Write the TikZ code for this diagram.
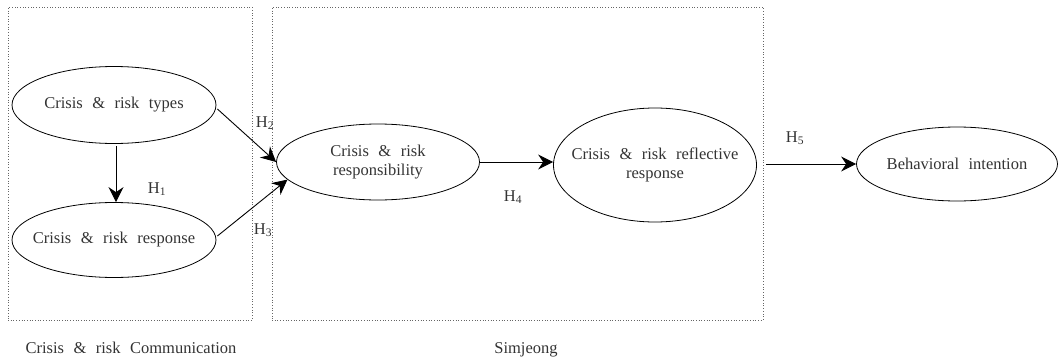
\documentclass[tikz,border=0pt]{standalone}
\usepackage{fontspec}
\setmainfont{Liberation Serif}[WordSpace=2.3]
\usetikzlibrary{arrows.meta,shapes.geometric}
\begin{document}
\begin{tikzpicture}[x=1pt,y=-1pt,
  oval/.style={draw,ellipse,line width=0.8pt,inner sep=0pt},
  inner/.style={align=center,text=black!80,font=\fontsize{16.5}{19}\selectfont,inner sep=0pt},
  grp/.style={draw=black!60,dotted,line width=0.7pt},
  lbl/.style={text=black!80,font=\fontsize{16.5}{19}\selectfont,inner sep=0pt},
  conn/.style={line width=0.9pt,-{Stealth[length=15pt,width=15pt,inset=5pt]}}]
\useasboundingbox (0,0) rectangle (1059,361);
\node[grp,minimum width=244pt,minimum height=313pt,inner sep=0pt] (g1) at (130,163.5) {};
\node[grp,minimum width=491pt,minimum height=313pt,inner sep=0pt] (g2) at (517.5,163.5) {};
\node[oval,minimum width=204pt,minimum height=77pt,label={[inner]center:Crisis \& risk types}] (types) at (114,105) {};
\node[oval,minimum width=204pt,minimum height=75pt,label={[inner]center:Crisis \& risk response}] (resp) at (114,240) {};
\node[oval,minimum width=203pt,minimum height=76pt,label={[inner]center:{Crisis \& risk\\responsibility}}] (respons) at (378,162) {};
\node[oval,minimum width=203pt,minimum height=114pt,label={[inner]center:{Crisis \& risk reflective\\response}}] (refl) at (655,165) {};
\node[oval,minimum width=201pt,minimum height=74pt,label={[inner]center:Behavioral intention}] (beh) at (957,164) {};
\coordinate (h5s) at (766,164);
\draw[conn] ([xshift=2pt,yshift=-2pt]types.south) -- ([xshift=2pt]resp.north);
\draw[conn] (types.east) ++(1,4) -- (respons.west);
\draw[conn] (resp.east) ++(1,-4) -- (respons.191);
\draw[conn] (respons.east) -- (respons.east -| refl.west);
\draw[conn] (h5s) -- (beh.west);
\node[lbl] (h1) at (157,189) {H\textsubscript{1}};
\node[lbl] (h2) at (265,123) {H\textsubscript{2}};
\node[lbl] (h3) at (263,230) {H\textsubscript{3}};
\node[lbl] (h4) at (513,197) {H\textsubscript{4}};
\node[lbl] (h5) at (795,138) {H\textsubscript{5}};
\node[lbl] (c1) at (131,348) {Crisis \& risk Communication};
\node[lbl] (c2) at (526,350) {Simjeong};
\end{tikzpicture}
\end{document}
